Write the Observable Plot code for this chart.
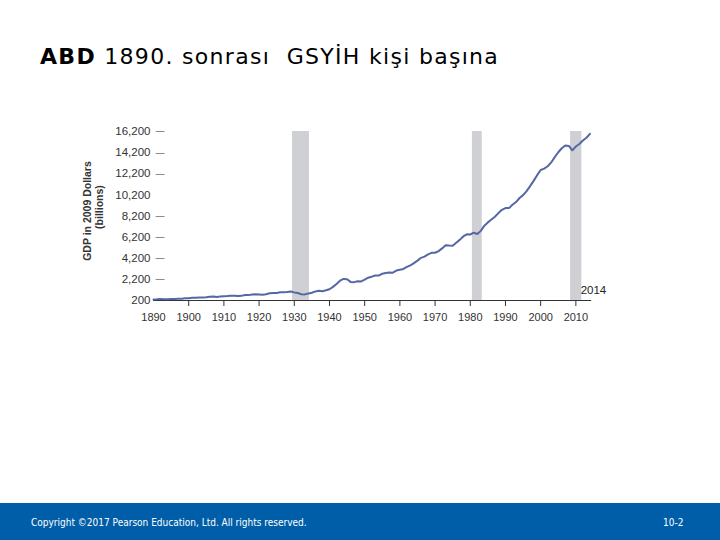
<!DOCTYPE html>
<html>
<head>
<meta charset="utf-8">
<script src="https://cdn.jsdelivr.net/npm/d3@7"></script>
<script src="https://cdn.jsdelivr.net/npm/@observablehq/plot@0.6"></script>
<style>
  html, body { margin: 0; padding: 0; background: #fff; }
  body { width: 720px; height: 540px; position: relative; overflow: hidden; }
  #title { position: absolute; left: 40px; top: 44px; font-family: "DejaVu Sans", Verdana, sans-serif; font-size: 22px; letter-spacing: 1.3px; color: #000; white-space: pre; line-height: 26px; }
  #title b { font-weight: bold; letter-spacing: 1.3px; }
  #chart { position: absolute; left: 80px; top: 118px; }
  .ytitle { position: absolute; font-family: "Liberation Sans", Arial, sans-serif; font-weight: bold; font-size: 10.5px; color: #333; white-space: pre; transform: translate(-50%, -50%) rotate(-90deg); line-height: 12px; }
  #footer { position: absolute; left: 0; top: 503px; width: 720px; height: 37px; background: #005ea8; color: #fff; font-family: "DejaVu Sans Condensed", "DejaVu Sans", sans-serif; font-size: 10px; }
  #copy { position: absolute; left: 31px; top: 14px; white-space: pre; }
  #page { position: absolute; left: 663px; top: 14px; }
</style>
</head>
<body>
<div id="title"><b>ABD</b> 1890. sonrası  GSYİH kişi başına</div>
<div id="chart"></div>
<div class="ytitle" style="left:87px; top:211px;">GDP in 2009 Dollars</div>
<div class="ytitle" style="left:99px; top:207px;">(billions)</div>
<div id="footer"><span id="copy">Copyright ©2017 Pearson Education, Ltd. All rights reserved.</span><span id="page">10-2</span></div>
<script>
const years = d3.range(1890, 2015);
const gdp = [
  300, 315, 340, 325, 315, 345, 340, 365, 375, 405,
  415, 455, 460, 485, 480, 505, 560, 570, 530, 590,
  600, 615, 640, 660, 620, 640, 720, 710, 770, 780,
  770, 750, 790, 880, 900, 920, 980, 990, 1000, 1057,
  967, 905, 788, 778, 862, 939, 1061, 1115, 1078, 1164,
  1266, 1490, 1772, 2074, 2239, 2218, 1961, 1939, 2020, 2009,
  2184, 2360, 2456, 2571, 2557, 2739, 2797, 2856, 2835, 3031,
  3109, 3188, 3383, 3530, 3734, 3977, 4239, 4355, 4569, 4713,
  4722, 4878, 5134, 5424, 5396, 5385, 5675, 5937, 6267, 6466,
  6450, 6618, 6491, 6792, 7285, 7594, 7861, 8133, 8475, 8786,
  8955, 8948, 9267, 9521, 9905, 10175, 10561, 11035, 11526, 12066,
  12560, 12682, 12909, 13271, 13774, 14234, 14614, 14874, 14830, 14419,
  14784, 15021, 15355, 15612, 15982
];
const recessionStart = [1929.5, 1980.6, 2008.5];
const recessionEnd = [1934.3, 1983.4, 2011.7];
const yTicks = [200, 2200, 4200, 6200, 8200, 10200, 12200, 14200, 16200];
const yDashTicks = [200, 2200, 4200, 6200, 8200, 12200, 14200, 16200];
const xLabelTicks = [1890, 1900, 1910, 1920, 1930, 1940, 1950, 1960, 1970, 1980, 1990, 2000, 2010];
const xMarkTicks = [1900, 1910, 1920, 1930, 1940, 1950, 1960, 1970, 1980, 1990, 2000, 2010];
const endLabel = ["2014"];

const series = years.map((y, i) => ({year: y, value: gdp[i]}));
const recessions = recessionStart.map((s, i) => ({start: s, end: recessionEnd[i]}));
const fmt = d3.format(",");

const plot = Plot.plot({
  width: 532,
  height: 210,
  marginLeft: 73,
  marginRight: 20.8,
  marginTop: 13,
  marginBottom: 28,
  style: {fontFamily: "'Liberation Sans', Arial, sans-serif", background: "transparent"},
  x: {domain: [1890, 2014.5], axis: null},
  y: {domain: [200, 16200], axis: null},
  marks: [
    Plot.rect(recessions, {x1: "start", x2: "end", fill: "#cfd0d3"}),
    Plot.ruleY([200], {stroke: "#333", strokeWidth: 1}),
    Plot.axisX({ticks: xMarkTicks, tickSize: 6, tickFormat: () => "", stroke: "#333"}),
    Plot.axisX({ticks: xLabelTicks, tickSize: 0, tickPadding: 13, tickFormat: d => String(d), fontSize: 11, fill: "#333"}),
    Plot.line(series, {x: "year", y: "value", stroke: "#5567a4", strokeWidth: 2, curve: "linear"}),
    Plot.text(yTicks, {x: () => 1890, y: d => d, text: d => fmt(d), textAnchor: "end", dx: -3, fontSize: 11.5, fill: "#333"}),
    Plot.text(yDashTicks, {x: () => 1890, y: d => d, text: () => "—", textAnchor: "start", dx: 2, fontSize: 9, fill: "#333"}),
    Plot.text(endLabel, {x: () => 2014, y: () => 200, text: d => d, textAnchor: "middle", dx: 3.5, dy: -10.5, fontSize: 11.5, fill: "#222"})
  ]
});
document.getElementById("chart").appendChild(plot);
</script>
</body>
</html>
